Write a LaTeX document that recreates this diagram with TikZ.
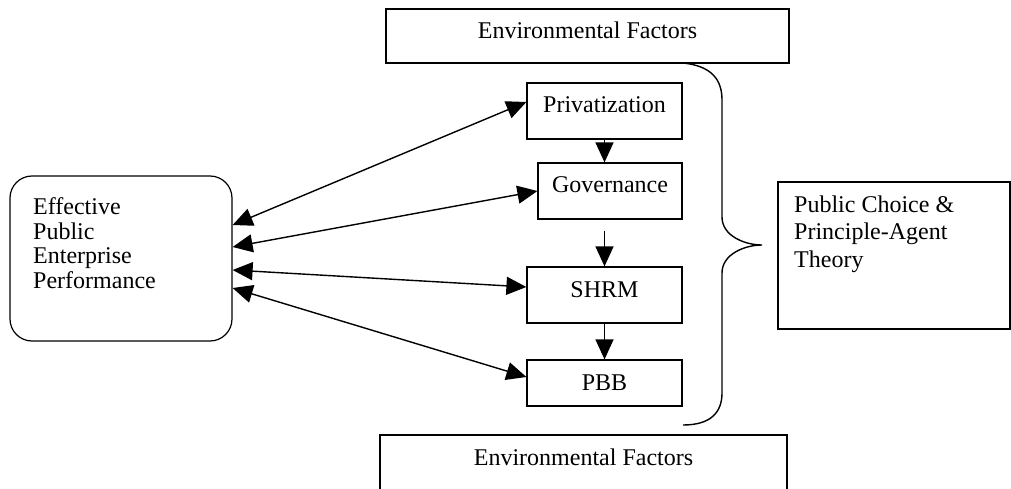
\documentclass[tikz,border=0pt]{standalone}
\usepackage{fontspec}
\setmainfont{Liberation Serif}
\usetikzlibrary{calc,arrows.meta}

\begin{document}
\begin{tikzpicture}[x=1pt,y=-1pt,
  frame/.style={draw,line width=1.2pt},
  box/.style={frame,inner xsep=0pt,inner ysep=0pt,text height=30pt},
  txt/.style={inner sep=0pt,align=left,anchor=north west},
  link/.style={line width=1.4pt,-{Triangle[length=20pt,width=18pt]}},
  both/.style={line width=1.4pt,{Triangle[length=20pt,width=18pt]}-{Triangle[length=20pt,width=18pt]}},
  font=\fontsize{24}{27.5}\selectfont]
  \useasboundingbox (0,0) rectangle (1011,489);
  \clip (0,0) rectangle (1011,489);
  % environment
  \node[box,minimum width=403pt,text depth=24pt] (envtop) at (587.5,36) {Environmental Factors};
  \node[box,minimum width=407pt,text depth=70pt] (envbot) at (583.5,485) {Environmental Factors};
  % middle column
  \node[box,minimum width=155pt,text depth=26pt] (priv) at (604.5,111) {Privatization};
  \node[box,minimum width=144pt,text depth=26pt] (gov) at (610,191) {Governance};
  \node[box,minimum width=155pt,text depth=26pt] (shrm) at (604.5,295) {SHRM};
  \node[box,minimum width=155pt,text depth=16pt] (pbb) at (604.5,383) {PBB};
  % performance
  \node[frame,rounded corners=22pt,minimum width=222pt,minimum height=165pt] (eff) at (121,258.5) {};
  \node[txt,font=\fontsize{24}{24.5}\selectfont] (efftxt) at (33,197.5) {Effective\\Public\\Enterprise\\Performance};
  % theory
  \node[frame,minimum width=232pt,minimum height=147pt] (theory) at (894,255.5) {};
  \node[txt] (theorytxt) at (794,195.3) {Public Choice \&\\Principle-Agent\\Theory};
  % arrows
  \draw[link] (priv.south) -- (priv.south |- gov.north);
  \draw[link] ($(priv.south |- gov.south)+(0,11)$) -- (priv.south |- shrm.north);
  \draw[link] (shrm.south) -- (pbb.north);
  \draw[both] ([yshift=33.5pt]eff.east) -- ([yshift=9pt]priv.west);
  \draw[both] ([yshift=11.5pt]eff.east) -- (gov.west);
  \draw[both] ([yshift=-11.5pt]eff.east) -- ([yshift=8pt]shrm.west);
  \draw[both] ([yshift=-29.5pt]eff.east) -- ([yshift=6pt]pbb.west);
  % brace
  \draw[line width=1.4pt] (683,63) .. controls (712,66) and (722,80) .. (722,100)
    -- (722,217) .. controls (722,236) and (745,245) .. (762,245)
    .. controls (745,245) and (722,254) .. (722,273)
    -- (722,393) .. controls (722,413) and (710,425) .. (683,425);
\end{tikzpicture}
\end{document}
